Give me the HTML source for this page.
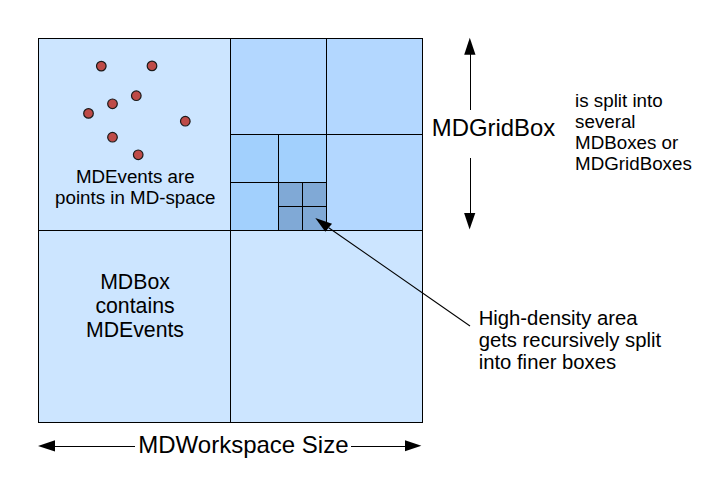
<!DOCTYPE html>
<html><head><meta charset="utf-8"><style>
html,body{margin:0;padding:0;background:#fff;width:720px;height:480px;overflow:hidden}
svg{display:block}
text{font-family:"Liberation Sans",sans-serif;fill:#000}
</style></head><body>
<svg width="720" height="480" viewBox="0 0 720 480">
<g shape-rendering="crispEdges">
<rect x="38" y="38" width="384" height="384" fill="#cce5ff"/>
<rect x="230" y="38" width="192" height="192" fill="#b3d7ff"/>
<rect x="230" y="134" width="96" height="96" fill="#a2d0fd"/>
<rect x="278" y="182" width="48" height="48" fill="#80a9d6"/>
<g fill="#000">
<rect x="38" y="38" width="385" height="1"/>
<rect x="38" y="422" width="385" height="1"/>
<rect x="38" y="38" width="1" height="385"/>
<rect x="422" y="38" width="1" height="385"/>
<rect x="38" y="230" width="385" height="1"/>
<rect x="230" y="38" width="1" height="385"/>
<rect x="230" y="134" width="192" height="1"/>
<rect x="326" y="38" width="1" height="192"/>
<rect x="230" y="182" width="96" height="1"/>
<rect x="278" y="134" width="1" height="96"/>
<rect x="278" y="206" width="48" height="1"/>
<rect x="302" y="182" width="1" height="48"/>
<rect x="470" y="54" width="1" height="56"/>
<rect x="470" y="158" width="1" height="55"/>
<rect x="54" y="446" width="81" height="1"/>
<rect x="351" y="446" width="55" height="1"/>
</g>
</g>
<g fill="#be4b48" stroke="#1a1a1a" stroke-width="1.2">
<circle cx="101.3" cy="66.1" r="4.8"/>
<circle cx="152" cy="65.9" r="4.8"/>
<circle cx="136.3" cy="95.7" r="4.8"/>
<circle cx="112.5" cy="103.8" r="4.8"/>
<circle cx="88.5" cy="113.4" r="4.8"/>
<circle cx="185.3" cy="121.2" r="4.8"/>
<circle cx="112.5" cy="137.2" r="4.8"/>
<circle cx="138.2" cy="154.8" r="4.8"/>
</g>
<g fill="#000">
<polygon points="469.8,37.8 464.2,54.8 475.5,54.8"/>
<polygon points="469.6,229.5 464.1,213 475.3,213"/>
<polygon points="38,445.9 55,440.3 55,451.4"/>
<polygon points="421.4,445.8 405,440.3 405,451.3"/>
<polygon points="315.3,218.1 332,223.7 325.3,231.7"/>
</g>
<line x1="470" y1="326" x2="328.7" y2="227.7" stroke="#000" stroke-width="1.05"/>
<text x="135.3" y="183" font-size="18.75" text-anchor="middle">MDEvents are</text>
<text x="135.3" y="204" font-size="18.75" text-anchor="middle">points in MD-space</text>
<text x="135" y="289" font-size="21.25" text-anchor="middle">MDBox</text>
<text x="135" y="313" font-size="21.25" text-anchor="middle">contains</text>
<text x="135" y="337" font-size="21.25" text-anchor="middle">MDEvents</text>
<text x="431.8" y="136" font-size="23.9">MDGridBox</text>
<text x="575.1" y="106.7" font-size="18.75">is split into</text>
<text x="575.1" y="127.9" font-size="18.75">several</text>
<text x="575.1" y="149.1" font-size="18.75">MDBoxes or</text>
<text x="575.1" y="170.2" font-size="18.75">MDGridBoxes</text>
<text x="478.7" y="325.2" font-size="20.28">High-density area</text>
<text x="478.7" y="346.8" font-size="20.28">gets recursively split</text>
<text x="478.7" y="368.8" font-size="20.28">into finer boxes</text>
<text x="243.4" y="452.7" font-size="24" text-anchor="middle">MDWorkspace Size</text>
</svg>
</body></html>
